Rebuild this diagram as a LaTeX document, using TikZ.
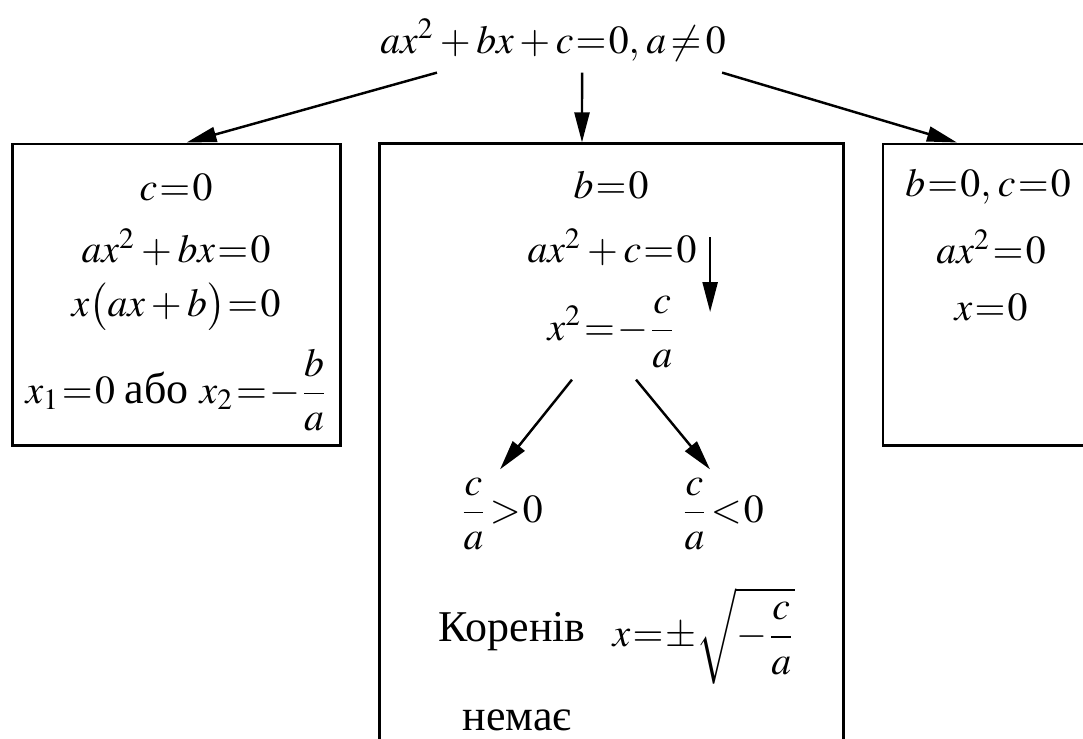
\documentclass[tikz,border=0pt]{standalone}
\usepackage{amsmath}
\usepackage{mathptmx}
\usepackage[no-math]{fontspec}
\setmainfont{Liberation Serif}
\usetikzlibrary{arrows.meta,positioning}
\thickmuskip=1mu
\medmuskip=2.5mu

\begin{document}
\begin{tikzpicture}[x=0.01cm,y=-0.01cm,>={Triangle[length=3mm,width=1.5mm]},
 b/.style={draw,line width=0.8pt,inner sep=0pt},
 t/.style={inner sep=0pt,font=\fontsize{11.3}{13.5}\selectfont},
 w/.style={inner sep=0pt,font=\fontsize{12.5}{15}\selectfont},
 a/.style={->,line width=0.7pt}]
 \useasboundingbox (0,0) rectangle (1083,738);
 % top equation
 \node[t] (eq) at (553,40) {$ax^2+bx+c=0,\;a\,{\neq}\,0$};
 % three cases
 \node[b,minimum width=3.27cm,minimum height=3.01cm] (lbox) at (176.5,294.5) {};
 \node[b,minimum width=4.63cm,minimum height=6.2cm] (mbox) at (611.5,454) {};
 \node[b,minimum width=2.16cm,minimum height=3.01cm] (rbox) at (991,294.5) {};
 \node[t] (l1) at (176,187) {$c=0$};
 \node[t] (l2) at (176,247) {$ax^2+bx=0$};
 \node[t] (l3) at (176,307) {$x\bigl(ax+b\bigr)=0$};
 \node[t] (l4) at (177,390) {$x_1=0\mbox{ \fontsize{12.5}{15}\selectfont або }x_2=-\dfrac{b}{a}$};
 \node[t] (m1) at (611,185) {$b=0$};
 \node[t] (m2) at (612,247) {$ax^2+c=0$};
 \node[t] (m3) at (612,332) {$x^2=-\dfrac{c}{a}$};
 \node[t] (mpos) at (501,514) {$\dfrac{c}{a}>0$};
 \node[t] (mneg) at (722,514) {$\dfrac{c}{a}<0$};
 \node[w] (mno) at (512,632) {Коренів};
 \node[w] (mno2) at (517,720) {немає};
 \node[t] (mroot) at (704,636) {$x=\pm\sqrt{-\dfrac{c}{a}}$};
 \node[t] (r1) at (988,187) {$b=0,\;c=0$};
 \node[t] (r2) at (991,247) {$ax^2=0$};
 \node[t] (r3) at (991,307) {$x=0$};
 % arrows
 \draw[a] ([xshift=-1.16cm,yshift=-0.11cm]eq.south) -- ([xshift=0.1cm]lbox.north);
 \draw[a] ([xshift=0.29cm,yshift=-0.11cm]eq.south) -- ([xshift=-0.295cm]mbox.north);
 \draw[a] ([xshift=1.69cm,yshift=-0.11cm]eq.south) -- ([xshift=-0.34cm]rbox.north);
 \draw[a] ([xshift=0.13cm,yshift=0.1cm]m2.east) -- ([xshift=0.13cm,yshift=-0.65cm]m2.east);
 \draw[a] ([xshift=-0.4cm,yshift=-0.11cm]m3.south) -- ([xshift=-0.01cm,yshift=0.08cm]mpos.north);
 \draw[a] ([xshift=0.24cm,yshift=-0.11cm]m3.south) -- ([xshift=-0.12cm,yshift=0.08cm]mneg.north);
\end{tikzpicture}
\end{document}
